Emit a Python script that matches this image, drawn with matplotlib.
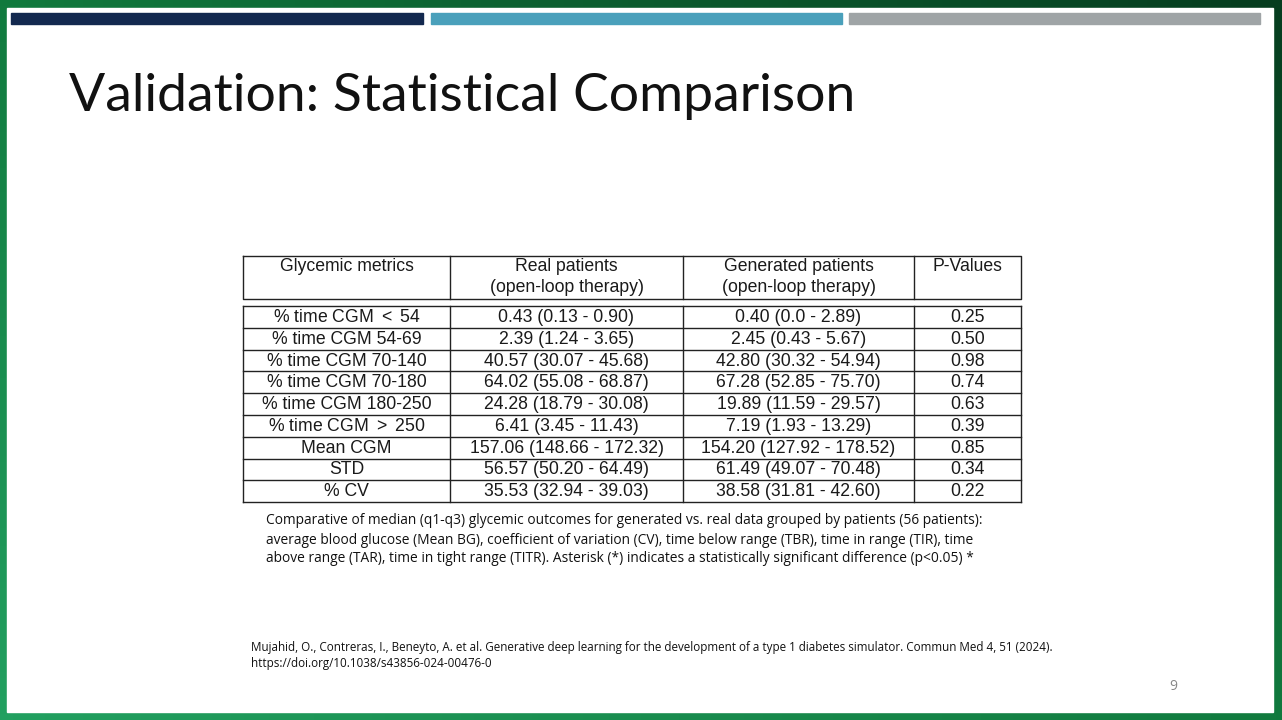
import matplotlib.pyplot as plt
import numpy as np
from matplotlib.colors import LinearSegmentedColormap

# Tabel gegevens
kolom_koppen = ["Glycemic metrics", "Real patients\n(open-loop therapy)",
                "Generated patients\n(open-loop therapy)", "P-Values"]
metrieken = ["% time CGM $<$ 54", "% time CGM 54-69", "% time CGM 70-140",
             "% time CGM 70-180", "% time CGM 180-250", "% time CGM $>$ 250",
             "Mean CGM", "STD", "% CV"]
echt = ["0.43 (0.13 - 0.90)", "2.39 (1.24 - 3.65)", "40.57 (30.07 - 45.68)",
        "64.02 (55.08 - 68.87)", "24.28 (18.79 - 30.08)", "6.41 (3.45 - 11.43)",
        "157.06 (148.66 - 172.32)", "56.57 (50.20 - 64.49)", "35.53 (32.94 - 39.03)"]
gegenereerd = ["0.40 (0.0 - 2.89)", "2.45 (0.43 - 5.67)", "42.80 (30.32 - 54.94)",
               "67.28 (52.85 - 75.70)", "19.89 (11.59 - 29.57)", "7.19 (1.93 - 13.29)",
               "154.20 (127.92 - 178.52)", "61.49 (49.07 - 70.48)", "38.58 (31.81 - 42.60)"]
p_waarden = ["0.25", "0.50", "0.98", "0.74", "0.63", "0.39", "0.85", "0.34", "0.22"]

titel = "Validation: Statistical Comparison"
onderschrift = [
    "Comparative of median (q1-q3) glycemic outcomes for generated vs. real data grouped by patients (56 patients):",
    "average blood glucose (Mean BG), coefficient of variation (CV), time below range (TBR), time in range (TIR), time",
    "above range (TAR), time in tight range (TITR). Asterisk (*) indicates a statistically significant difference (p<0.05) *",
]
bron = [
    "Mujahid, O., Contreras, I., Beneyto, A. et al. Generative deep learning for the development of a type 1 diabetes simulator. Commun Med 4, 51 (2024).",
    "https://doi.org/10.1038/s43856-024-00476-0",
]

plt.rcParams['mathtext.fontset'] = 'custom'
plt.rcParams['mathtext.rm'] = 'Liberation Sans'

fig = plt.figure(figsize=(12.82, 7.2), dpi=100)

# Groene achtergrond met verloop
verloop = LinearSegmentedColormap.from_list('groen', ['#22a060', '#117a3e', '#063d1f'])
xx, yy = np.meshgrid(np.linspace(0, 1, 200), np.linspace(0, 1, 120))
bg = fig.add_axes([0, 0, 1, 1])
bg.imshow(0.6 * xx + 0.6 * yy, cmap=verloop, aspect='auto', origin='lower',
          extent=[0, 1, 0, 1], vmin=0, vmax=1.2)
bg.axis('off')

ax = fig.add_axes([0, 0, 1, 1])
ax.set_xlim(0, 1282)
ax.set_ylim(720, 0)
ax.axis('off')
ax.add_patch(plt.Rectangle((7, 8), 1266, 704, color='white', zorder=0))

# Balken bovenaan
for x0, x1, kleur in [(11, 423, '#13294f'), (431, 842, '#4aa0bb'), (849, 1260, '#9fa4a6')]:
    ax.add_patch(plt.Rectangle((x0, 13), x1 - x0, 11, color=kleur, zorder=1))

ax.text(69, 97, titel, fontsize=38.5, family='Lato',
        va='center', ha='left', color='#111111')

# Tabel
kolommen = [243, 450, 683, 914, 1021]
kop_boven, kop_onder = 256, 299
rij_boven, rij_h = 306, 21.8
lijn = dict(color='#222222', lw=1.0)
tf = dict(family='Liberation Sans', fontsize=12.7, color='#1a1a1a', ha='center')

ax.plot([kolommen[0], kolommen[-1], kolommen[-1], kolommen[0], kolommen[0]],
        [kop_boven, kop_boven, kop_onder, kop_onder, kop_boven], **lijn)
for xk in kolommen[1:-1]:
    ax.plot([xk, xk], [kop_boven, kop_onder], **lijn)
for i, kop in enumerate(kolom_koppen):
    xc = (kolommen[i] + kolommen[i + 1]) / 2
    for j, deel in enumerate(kop.split("\n")):
        ax.text(xc, 271 + 21 * j, deel, va='baseline', **tf)

n = len(metrieken)
rij_onder = rij_boven + n * rij_h
for xk in kolommen:
    ax.plot([xk, xk], [rij_boven, rij_onder], **lijn)
for r in range(n + 1):
    y = rij_boven + r * rij_h
    ax.plot([kolommen[0], kolommen[-1]], [y, y], **lijn)
for r in range(n):
    yb = rij_boven + (r + 0.5) * rij_h + 5
    for i, cel in enumerate([metrieken[r], echt[r], gegenereerd[r], p_waarden[r]]):
        xc = (kolommen[i] + kolommen[i + 1]) / 2
        ax.text(xc, yb, cel, va='baseline', **tf)

for j, regel in enumerate(onderschrift):
    ax.text(266, 521 + 19 * j, regel, fontsize=9.9, family='Open Sans',
            va='center', ha='left', color='#111111')
for j, regel in enumerate(bron):
    ax.text(251, 648 + 16 * j, regel, fontsize=8.35, family='Open Sans',
            va='center', ha='left', color='#111111')
ax.text(1173, 687, "9", fontsize=10, family='Open Sans', va='center',
        ha='center', color='#888888')

fig.savefig('out.png', dpi=100)
